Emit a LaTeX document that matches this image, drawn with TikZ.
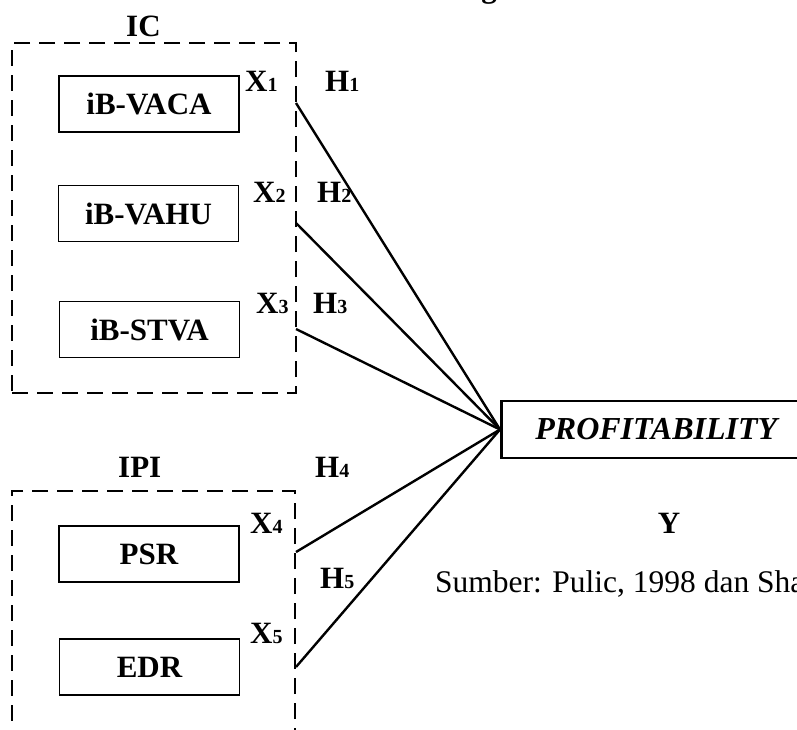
\documentclass[tikz,border=0pt]{standalone}
\usepackage{fontspec}
\setmainfont{Liberation Serif}
\newcommand{\subd}[1]{{\fontsize{20}{20}\selectfont #1}}
\begin{document}
\begin{tikzpicture}[x=1pt,y=-1pt,
  lbl/.style={font=\fontsize{31}{31}\selectfont\bfseries, inner sep=0pt, anchor=base west},
  varbox/.style={draw, line width=1.5pt, minimum width=180pt, minimum height=56pt, inner sep=0pt, font=\fontsize{31}{31}\selectfont\bfseries},
  groupbox/.style={draw, line width=2.8pt, dash pattern=on 16pt off 9pt, inner sep=0pt},
  link/.style={line width=2.4pt}]
\useasboundingbox (0,0) rectangle (797,729);

% cut-off title fragment
\node[font=\fontsize{31}{31}\selectfont\bfseries, inner sep=0pt, anchor=base] (ttl) at (489,-2.5) {g};

% groups
\node[groupbox, minimum width=284pt, minimum height=350pt] (IC) at (154,218) {};
\node[groupbox, minimum width=283pt, minimum height=270pt] (IPI) at (153.5,626) {};
\node[lbl] (ICl) at (126,36) {IC};
\node[lbl] (IPIl) at (118,477) {IPI};

% variable boxes
\node[varbox] (v1) at (149,104) {iB-VACA};
\node[varbox] (v2) at (148.5,213.5) {iB-VAHU};
\node[varbox] (v3) at (149.5,329.5) {iB-STVA};
\node[varbox] (v4) at (149,554) {PSR};
\node[varbox] (v5) at (149.5,667) {EDR};

% dependent
\node[draw, line width=2.6pt, minimum width=310pt, minimum height=57pt, inner sep=0pt,
      font=\fontsize{32}{32}\selectfont\bfseries\itshape, anchor=west] (P) at (500,429.5) {PROFITABILITY};

% X labels
\node[lbl] (x1) at (245,91) {X\subd{1}};
\node[lbl] (x2) at (253,202) {X\subd{2}};
\node[lbl] (x3) at (256,313) {X\subd{3}};
\node[lbl] (x4) at (250,533) {X\subd{4}};
\node[lbl] (x5) at (250,643) {X\subd{5}};

% H labels
\node[lbl] (h1) at (325,91) {H\subd{1}};
\node[lbl] (h2) at (317,202) {H\subd{2}};
\node[lbl] (h3) at (313,313) {H\subd{3}};
\node[lbl] (h4) at (315,477) {H\subd{4}};
\node[lbl] (h5) at (320,588) {H\subd{5}};

% Y and source
\node[font=\fontsize{31}{31}\selectfont\bfseries, inner sep=0pt, anchor=base] (Y) at (669,533) {Y};
\node[font=\fontsize{31.5}{31.5}\selectfont, inner sep=0pt, anchor=base west] (src) at (435,592) {Sumber: Pulic, 1998 dan Sha};

% connector start points
\coordinate (s1) at (296,103);
\coordinate (s2) at (296,223);
\coordinate (s3) at (296,329);
\coordinate (s4) at (296,552);
\coordinate (s5) at (296,667);

\draw[link] (s1) -- (P.west);
\draw[link] (s2) -- (P.west);
\draw[link] (s3) -- (P.west);
\draw[link] (s4) -- (P.west);
\draw[link] (s5) -- (P.west);
\end{tikzpicture}
\end{document}
